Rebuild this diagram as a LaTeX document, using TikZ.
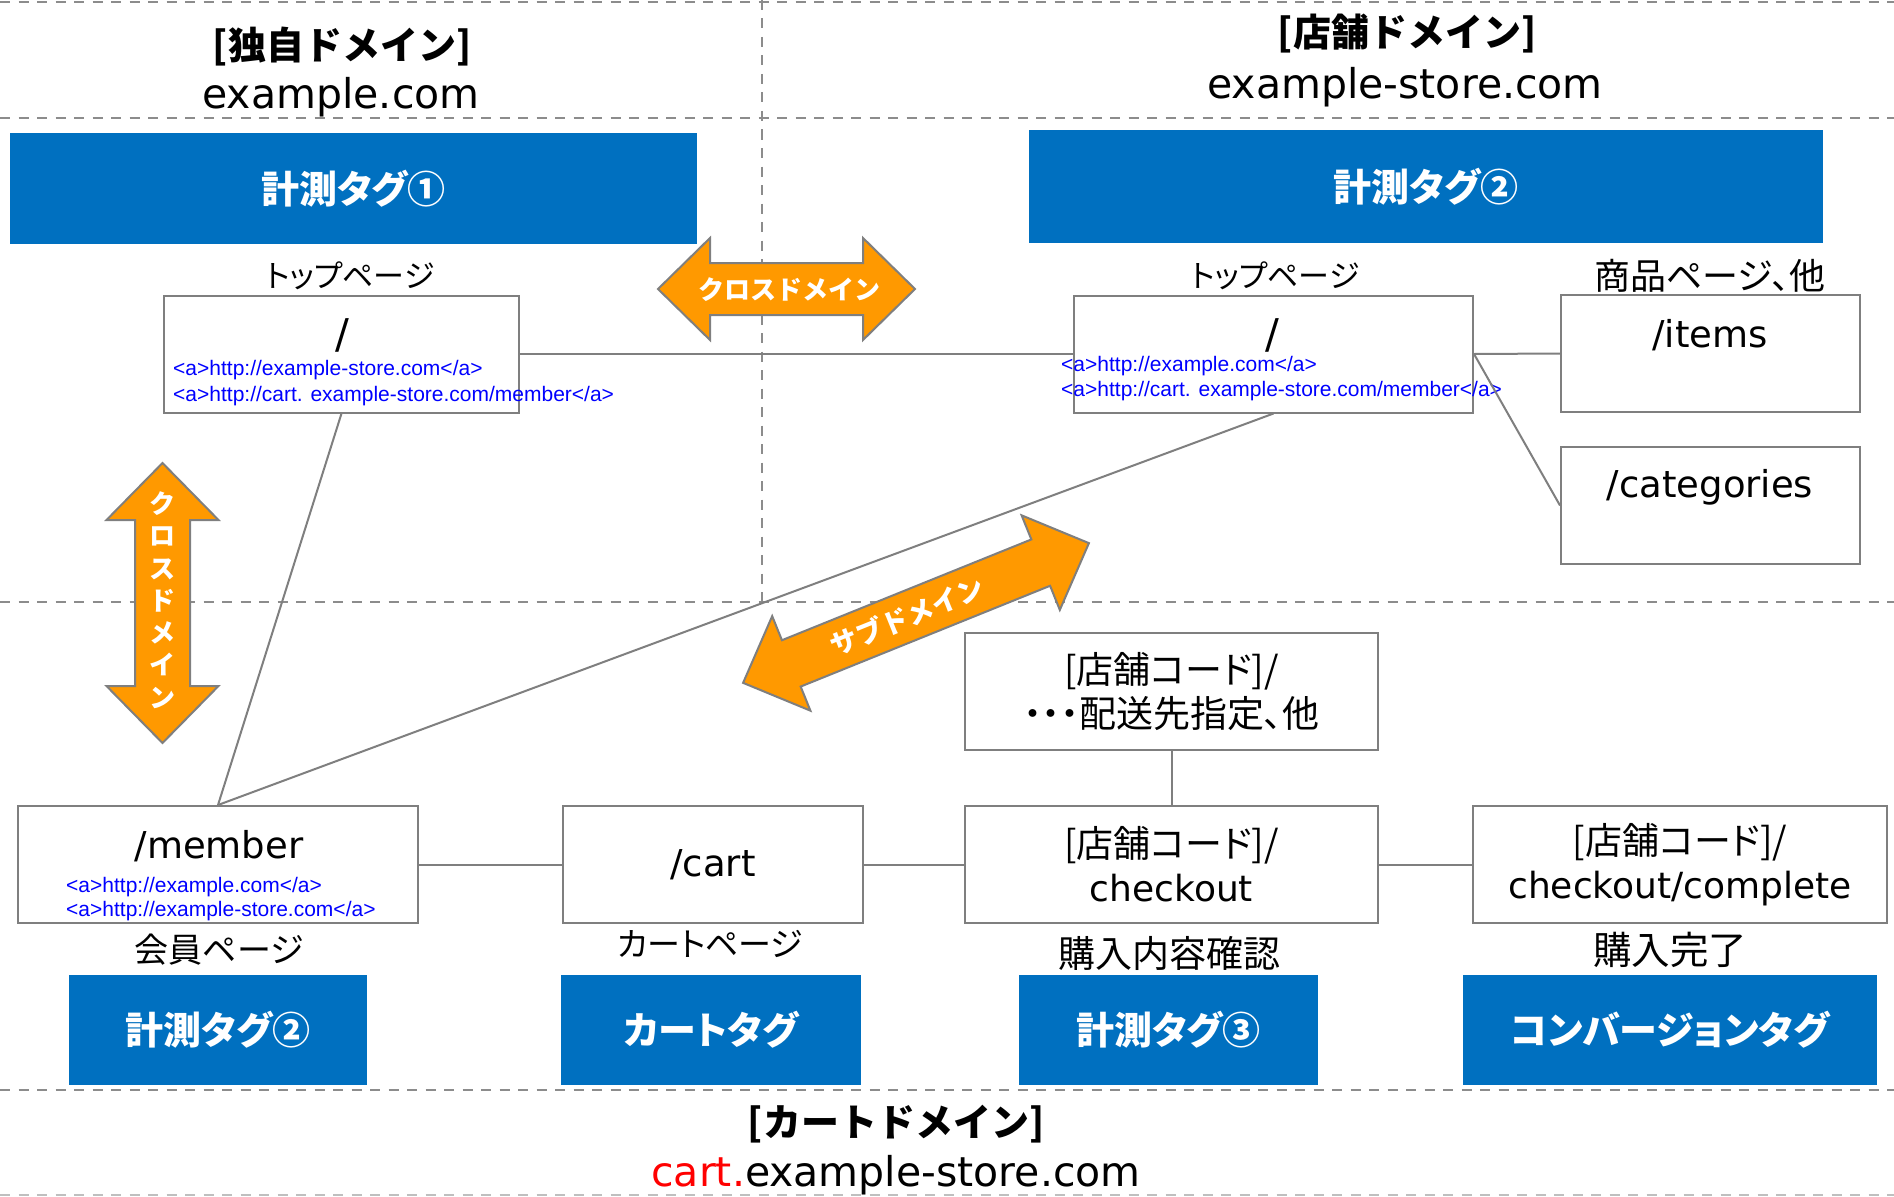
\documentclass[tikz,border=0pt]{standalone}
\usepackage{fontspec}
\setmainfont{Noto Sans CJK JP}[CharacterWidth=AlternateProportional]
\newfontfamily\fullfont{Noto Sans CJK JP}
\newfontfamily\latfont{DejaVu Sans}
\newfontfamily\urlfont{Liberation Sans}

\definecolor{tagblue}{HTML}{0070C0}
\definecolor{crossorange}{HTML}{FF9900}
\definecolor{linegray}{HTML}{7F7F7F}
\definecolor{dashgray}{HTML}{8C8C8C}

\tikzset{
  divider/.style={draw=dashgray, line width=2.5pt, dash pattern=on 10pt off 8.5pt},
  pagebox/.style={draw=linegray, line width=2pt, fill=white, minimum height=117pt, inner sep=0pt},
  tagbox/.style={fill=tagblue, text=white, minimum height=110pt, inner sep=0pt,
    font=\bfseries\fontsize{38}{42}\selectfont},
  link/.style={draw=linegray, line width=2pt},
  urltext/.style={text=blue, anchor=west, inner sep=0pt, font=\urlfont\fontsize{21}{25}\selectfont},
  pagename/.style={inner sep=0pt, font=\fontsize{#1}{40}\selectfont},
  pagename/.default=36,
  pathtext/.style={inner sep=0pt, font=\latfont\fontsize{37}{44}\selectfont},
  codetext/.style={align=center, font=\fontsize{37}{44}\selectfont},
  domtitle/.style={inner sep=0pt, font=\fullfont\bfseries\fontsize{38}{42}\selectfont},
  domname/.style={inner sep=0pt, font=\latfont\fontsize{41}{48}\selectfont},
  orangearrow/.style={fill=crossorange, draw=linegray, line width=2pt},
  arrowtext/.style={text=white, inner sep=0pt, font=\fullfont\bfseries\fontsize{26}{32.3}\selectfont},
}

% double headed block arrow: centre, angle, half length, head length, head half width, shaft half width
\newcommand{\dblarrow}[6]{%
  \draw[orangearrow, shift={#1}, rotate=#2]
    (-#3,0) -- ({-#3+#4},-#5) -- ({-#3+#4},-#6) -- ({#3-#4},-#6) -- ({#3-#4},-#5)
    -- (#3,0) -- ({#3-#4},#5) -- ({#3-#4},#6) -- ({-#3+#4},#6) -- ({-#3+#4},#5) -- cycle;}

\begin{document}
\begin{tikzpicture}[x=1pt, y=-1pt]
\useasboundingbox (0,0) rectangle (1894,1196);

% domain borders
\draw[divider] (0,2) -- (1894,2);
\draw[divider] (0,118) -- (1894,118);
\draw[divider] (0,602) -- (1894,602);
\draw[divider] (0,1090) -- (1894,1090);
\draw[divider, draw=lightgray] (0,1195) -- (1894,1195);
\draw[divider] (762,0) -- (762,602);

% domain names
\node[domtitle] (owntitle) at (342,47) {[独自ドメイン]};
\node[domname] (ownname) at (341,97) {example.com};
\node[domtitle] (storetitle) at (1407,34) {[店舗ドメイン]};
\node[domname] (storename) at (1405,87) {example-store.com};
\node[domtitle] (carttitle) at (896,1124) {[カートドメイン]};
\node[domname] (cartname) at (896,1175) {\textcolor{red}{cart.}example-store.com};

% tags
\node[tagbox, minimum width=687pt, minimum height=111pt] (tagone) at (353.5,188.5) {計測タグ①};
\node[tagbox, minimum width=794pt, minimum height=113pt] (tagtwo) at (1426,186.5) {計測タグ②};
\node[tagbox, minimum width=298pt] (tagmember) at (218,1029.5) {計測タグ②};
\node[tagbox, minimum width=300pt] (tagcart) at (711,1029.5) {カートタグ};
\node[tagbox, minimum width=299pt] (tagthree) at (1168.5,1029.5) {計測タグ③};
\node[tagbox, minimum width=414pt] (tagconv) at (1670,1029.5) {コンバージョンタグ};

% pages
\node[pagebox, minimum width=355pt] (topown) at (341.5,354) {};
\node[pagebox, minimum width=399pt] (topstore) at (1273.5,354) {};
\node[pagebox, minimum width=299pt] (items) at (1710.5,353.5) {};
\node[pagebox, minimum width=299pt] (categories) at (1710.5,505.5) {};
\node[pagebox, minimum width=400pt] (member) at (218,864.5) {};
\node[pagebox, pathtext, minimum width=300pt] (cart) at (713,864.5) {/cart};
\node[pagebox, codetext, minimum width=413pt] (shipping) at (1171.5,691.5) {[店舗コード]/\\・・・配送先指定、他};
\node[pagebox, codetext, minimum width=413pt] (checkout) at (1171.5,864.5) {[店舗コード]/\\{\latfont\fontsize{36}{44}\selectfont checkout}};
\node[pagebox, codetext, minimum width=414pt] (complete) at (1680,864.5) {[店舗コード]/\\{\latfont\fontsize{36}{44}\selectfont checkout/complete}};

% page texts
\node[pathtext, font=\latfont\fontsize{41}{48}\selectfont] (ownroot) at (342,335) {/};
\node[pathtext, font=\latfont\fontsize{41}{48}\selectfont] (storeroot) at (1272,335) {/};
\node[pathtext] (itemsname) at (1710,335) {/items};
\node[pathtext] (categoriesname) at (1710,487) {/categories};
\node[pathtext] (membername) at (219,846) {/member};
\node[urltext] (ownlink) at (173,370.5) {<a>http://example-store.com</a>};
\node[urltext] (ownmember) at (173,396.5) {<a>http://cart. example-store.com/member</a>};
\node[urltext] (storelink) at (1061,366.5) {<a>http://example.com</a>};
\node[urltext] (storemember) at (1061,391.5) {<a>http://cart. example-store.com/member</a>};
\node[urltext] (memberown) at (66,887) {<a>http://example.com</a>};
\node[urltext] (memberstore) at (66,911) {<a>http://example-store.com</a>};

% page captions
\node[pagename=31] (owncap) at (350,276) {トップページ};
\node[pagename=31] (storecap) at (1275,276) {トップページ};
\node[pagename] (itemscap) at (1710,276) {商品ページ、他};
\node[pagename=34] (membercap) at (219,950) {会員ページ};
\node[pagename=33] (cartcap) at (710,944) {カートページ};
\node[pagename=37] (checkoutcap) at (1169,953) {購入内容確認};
\node[pagename=38.5] (completecap) at (1670,950) {購入完了};

% links between pages
\draw[link] (topown.east) -- (topstore.west);
\draw[link] (topstore.east) -- (items.west);
\draw[link] (topstore.east) -- (categories.west);
\draw[link] (topown.south) -- (member.north);
\draw[link] (topstore.south) -- (member.north);
\draw[link] (member.east) -- (cart.west);
\draw[link] (cart.east) -- (checkout.west);
\draw[link] (checkout.east) -- (complete.west);
\draw[link] (shipping.south) -- (checkout.north);

% domain crossing arrows
\dblarrow{(786.5,289)}{0}{128.5}{52}{51}{26}
\dblarrow{(162.5,603)}{90}{140}{57}{56}{27.5}
\dblarrow{(916,613)}{22}{186.5}{52}{51}{25}
\node[arrowtext] (crosslabel) at (789,290) {クロスドメイン};
\node[arrowtext, align=center] (crossvlabel) at (162.5,600) {ク\\ロ\\ス\\ド\\メ\\イ\\ン};
\node[arrowtext, rotate=22, font=\fullfont\bfseries\fontsize{27}{32}\selectfont] (sublabel) at (907,616) {サブドメイン};
\end{tikzpicture}
\end{document}
